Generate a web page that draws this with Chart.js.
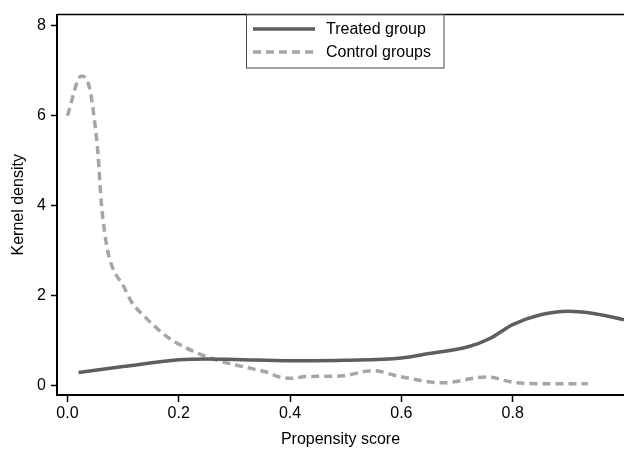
<!doctype html>
<html lang="en">
  <head>
    <meta charset="utf-8">
    <title>Kernel density</title>
    <style>
      * { margin: 0; padding: 0; }
      body { background: #fff; }
      .chartBox { width: 624px; height: 451px; }
    </style>
  </head>
  <body>
    <div class="chartBox">
      <canvas id="myChart" width="624" height="451"></canvas>
    </div>
    <script src="https://cdn.jsdelivr.net/npm/chart.js/dist/chart.umd.min.js"></script>
    <script>
    // values
    const seriesNames = ['Treated group', 'Control groups'];
    const treatedX = [0.02, 0.1, 0.2, 0.25, 0.3, 0.4, 0.5, 0.6, 0.65, 0.72, 0.76, 0.8, 0.85, 0.9, 0.94, 1.0];
    const treatedY = [0.3, 0.43, 0.58, 0.6, 0.59, 0.56, 0.57, 0.62, 0.72, 0.87, 1.06, 1.36, 1.58, 1.66, 1.62, 1.47];
    const controlX = [0.0, 0.025, 0.04, 0.05, 0.055, 0.061, 0.067, 0.073, 0.082, 0.1, 0.115, 0.142, 0.16, 0.178, 0.214, 0.262, 0.322, 0.357, 0.381, 0.4, 0.43, 0.49, 0.549, 0.597, 0.675, 0.753, 0.807, 0.86, 0.935];
    const controlY = [6.0, 6.88, 6.6, 5.75, 5.14, 4.05, 3.4, 2.96, 2.6, 2.23, 1.87, 1.5, 1.29, 1.1, 0.84, 0.6, 0.41, 0.31, 0.2, 0.17, 0.21, 0.22, 0.34, 0.21, 0.07, 0.2, 0.07, 0.05, 0.05];
    const xTicks = [0, 0.2, 0.4, 0.6, 0.8];
    const yTicks = [0, 2, 4, 6, 8];

    const darkLine = '#5e5e5e';
    const lightLine = '#a6a6a6';
    const font = 'Liberation Sans, Arial, sans-serif';

    function toPoints(xs, ys) {
      return xs.map((x, i) => ({x: x, y: ys[i]}));
    }

    // top frame line + boxed legend like the stata graph
    const framePlugin = {
      id: 'frameAndLegend',
      afterDraw: (chart) => {
        const ctx = chart.ctx;
        const {left, right, top} = chart.chartArea;
        ctx.save();
        ctx.strokeStyle = '#000';
        ctx.lineWidth = 1.5;
        ctx.beginPath();
        ctx.moveTo(left, top);
        ctx.lineTo(right, top);
        ctx.stroke();

        // legend box
        const bx = 246.5, by = 14.5, bw = 197.5, bh = 53.5;
        ctx.strokeStyle = '#444';
        ctx.lineWidth = 1;
        ctx.strokeRect(bx, by, bw, bh);
        ctx.font = '16px ' + font;
        ctx.textBaseline = 'middle';
        ctx.fillStyle = '#000';
        chart.data.datasets.forEach((ds, i) => {
          const y = 29 + i * 23;
          ctx.strokeStyle = ds.borderColor;
          ctx.lineWidth = ds.borderWidth;
          ctx.setLineDash(ds.borderDash || []);
          ctx.beginPath();
          ctx.moveTo(253, y);
          ctx.lineTo(315, y);
          ctx.stroke();
          ctx.fillText(ds.label, 326, y + 1);
        });
        ctx.restore();
      }
    };

    const ctx = document.getElementById('myChart');
    const myChart = new Chart(ctx, {
      type: 'line',
      data: {
        datasets: [
          {
            label: seriesNames[0],
            data: toPoints(treatedX, treatedY),
            borderColor: darkLine,
            borderWidth: 3.5,
            pointRadius: 0,
            cubicInterpolationMode: 'monotone',
            fill: false
          },
          {
            label: seriesNames[1],
            data: toPoints(controlX, controlY),
            borderColor: lightLine,
            borderWidth: 3.5,
            borderDash: [8, 5],
            pointRadius: 0,
            cubicInterpolationMode: 'monotone',
            fill: false
          }
        ]
      },
      options: {
        responsive: false,
        animation: false,
        devicePixelRatio: 1,
        layout: { padding: { top: 8, right: 0, left: 0, bottom: 0 } },
        plugins: {
          legend: { display: false },
          tooltip: { enabled: false }
        },
        scales: {
          x: {
            type: 'linear',
            min: -0.0187,
            max: 1.0,
            afterBuildTicks: (axis) => { axis.ticks = xTicks.map(v => ({value: v})); },
            afterFit: (axis) => { axis.height = 56; },
            grid: { drawOnChartArea: false, drawTicks: true, tickLength: 7, color: '#000', tickWidth: 1.5 },
            border: { color: '#000', width: 2 },
            ticks: {
              color: '#000',
              padding: 2,
              maxRotation: 0,
              font: { family: font, size: 16 },
              callback: (v) => Number(v).toFixed(1)
            },
            title: {
              display: true,
              text: 'Propensity score',
              color: '#000',
              font: { family: font, size: 16 },
              padding: { top: 0, bottom: 2 }
            }
          },
          y: {
            type: 'linear',
            min: -0.2,
            max: 8.24,
            afterBuildTicks: (axis) => { axis.ticks = yTicks.map(v => ({value: v})); },
            afterFit: (axis) => { axis.width = 57; },
            grid: { drawOnChartArea: false, drawTicks: true, tickLength: 6, color: '#000', tickWidth: 1.5 },
            border: { color: '#000', width: 2 },
            ticks: {
              color: '#000',
              padding: 5,
              font: { family: font, size: 16 },
              callback: (v) => String(v)
            },
            title: {
              display: true,
              text: 'Kernel density',
              color: '#000',
              font: { family: font, size: 16 },
              padding: { top: 9, bottom: 0 }
            }
          }
        }
      },
      plugins: [framePlugin]
    });
    </script>
  </body>
</html>
